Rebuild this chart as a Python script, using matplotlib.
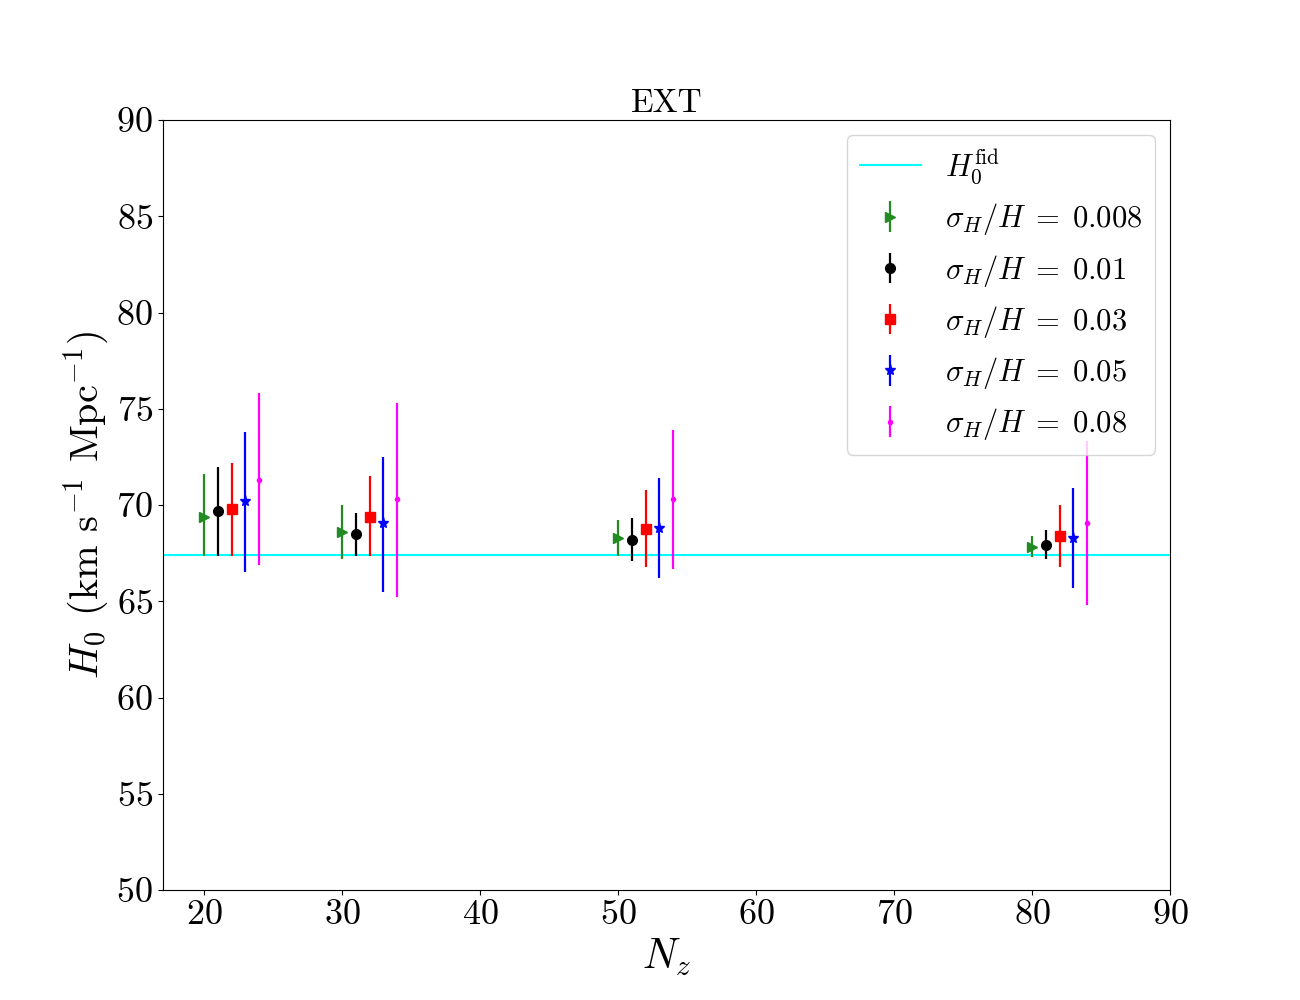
import numpy as np
import matplotlib
matplotlib.use("Agg")
import matplotlib.pyplot as plt

plt.rcParams["font.family"] = "serif"
plt.rcParams["font.serif"] = ["cmr10"]
plt.rcParams["mathtext.fontset"] = "cm"
plt.rcParams["axes.formatter.use_mathtext"] = True
plt.rcParams["axes.unicode_minus"] = False

H0_fid = 67.4
nz = np.array([20, 30, 50, 80])

labels = ["0.008", "0.01", "0.03", "0.05", "0.08"]
colors = ["forestgreen", "black", "red", "blue", "magenta"]
markers = [">", "o", "s", "*", "."]
msizes = [7, 7, 7, 8, 6]

# best fit, lower bound, upper bound for each sigma_H/H (one value per Nz)
h0_val = [
    [69.4, 68.6, 68.3, 67.8],
    [69.7, 68.5, 68.2, 67.9],
    [69.8, 69.4, 68.75, 68.4],
    [70.2, 69.05, 68.8, 68.3],
    [71.3, 70.3, 70.3, 69.05],
]
h0_low = [
    [67.35, 67.2, 67.35, 67.3],
    [67.35, 67.35, 67.1, 67.2],
    [67.35, 67.35, 66.8, 66.8],
    [66.5, 65.5, 66.2, 65.7],
    [66.9, 65.2, 66.7, 64.8],
]
h0_up = [
    [71.6, 70.0, 69.2, 68.4],
    [72.0, 69.6, 69.3, 68.7],
    [72.2, 71.5, 70.8, 70.0],
    [73.8, 72.5, 71.4, 70.9],
    [75.8, 75.3, 73.9, 73.3],
]

fig, ax = plt.subplots(figsize=(13, 10), dpi=100)

ax.axhline(H0_fid, color="cyan", lw=1.5, label=r"$H_0^{\rm fid}$", zorder=1)

for i in range(len(labels)):
    val = np.array(h0_val[i])
    low = np.array(h0_low[i])
    up = np.array(h0_up[i])
    ax.errorbar(nz + i, val, yerr=[val - low, up - val], fmt=markers[i],
                color=colors[i], ms=msizes[i], elinewidth=1.6,
                label=r"$\sigma_H/H\;=\;" + labels[i] + "$", zorder=2)

ax.set_xlim(17, 90)
ax.set_ylim(50, 90)
ax.set_xticks(np.arange(20, 91, 10))
ax.set_yticks(np.arange(50, 91, 5))
ax.tick_params(labelsize=26)
ax.set_xlabel(r"$N_z$", fontsize=30)
ax.set_ylabel(r"$H_0$ (km s$^{-1}$ Mpc$^{-1}$)", fontsize=29)
ax.set_title("EXT", fontsize=24)
ax.legend(loc="upper right", fontsize=22)

plt.savefig("out.png")
